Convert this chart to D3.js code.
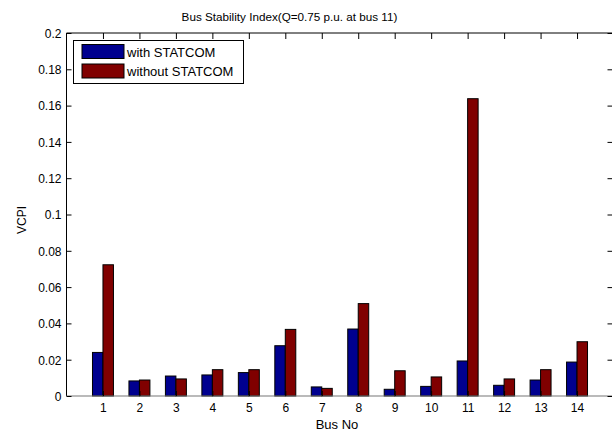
<!DOCTYPE html>
<html><head><meta charset="utf-8">
<script src="https://cdn.jsdelivr.net/npm/d3@7"></script>
<style>body{margin:0;background:#fff}svg{display:block}text{font-family:"Liberation Sans",Arial,sans-serif}</style>
</head><body><svg id="c" width="612" height="434"></svg>
<script>
const buses = [1,2,3,4,5,6,7,8,9,10,11,12,13,14];
const withStatcom = [0.024,0.0083,0.011,0.0116,0.0129,0.0277,0.005,0.0369,0.0037,0.0053,0.0193,0.0059,0.0088,0.0187];
const withoutStatcom = [0.0723,0.0088,0.0094,0.0145,0.0145,0.0367,0.0042,0.0509,0.0139,0.0105,0.1638,0.0094,0.0145,0.0299];
const yTicks = [0,0.02,0.04,0.06,0.08,0.1,0.12,0.14,0.16,0.18,0.2];
const seriesNames = ["with STATCOM","without STATCOM"];
const colors = ["#00008f","#800000"];

const svg = d3.select("#c");
const L = 66.5, R = 613.5, T = 33, B = 396;
const x = d3.scaleLinear().domain([0,15]).range([L,R]);
const y = d3.scaleLinear().domain([0,0.2]).range([B,T]);
const step = x(1)-x(0);
const bw = step*0.2875;

const series = [withStatcom, withoutStatcom];
series.forEach((vals,si)=>{
  svg.append("g").selectAll("rect").data(vals).join("rect")
    .attr("x",(d,i)=>x(buses[i]) + (si===0 ? -bw : 0))
    .attr("width",bw)
    .attr("y",d=>y(d))
    .attr("height",d=>B-y(d))
    .attr("fill",colors[si])
    .attr("stroke","#000").attr("stroke-width",1);
});

// frame
svg.append("line").attr("x1",L).attr("x2",R).attr("y1",T).attr("y2",T).attr("stroke","#000");
svg.append("line").attr("x1",L).attr("x2",L).attr("y1",T).attr("y2",B).attr("stroke","#000");
svg.append("line").attr("x1",L).attr("x2",R).attr("y1",B).attr("y2",B).attr("stroke","#777").attr("stroke-width",1.2);

// axes
const yAxisL = d3.axisLeft(y).tickValues(yTicks).tickSize(-5).tickPadding(5).tickFormat(d=>d3.format("~g")(d));
const gy = svg.append("g").attr("transform",`translate(${L},0)`).call(yAxisL);
const yAxisR = d3.axisRight(y).tickValues(yTicks).tickSize(-6).tickFormat("");
const gyr = svg.append("g").attr("transform",`translate(${R},0)`).call(yAxisR);
const xAxisB = d3.axisBottom(x).tickValues(buses).tickSize(-5).tickPadding(7).tickFormat(d3.format("d"));
const gx = svg.append("g").attr("transform",`translate(0,${B})`).call(xAxisB);
const xAxisT = d3.axisTop(x).tickValues(buses).tickSize(-6).tickFormat("");
const gxt = svg.append("g").attr("transform",`translate(0,${T})`).call(xAxisT);
[gy,gyr,gx,gxt].forEach(g=>{
  g.select(".domain").remove();
  g.selectAll("line").attr("stroke","#000");
  g.selectAll("text").attr("fill","#000").style("font-size","12px").style("font-family",'"Liberation Sans",Arial,sans-serif');
});
gy.selectAll("text").attr("dy","0.36em");

// title & labels
svg.append("text").attr("x",289.5).attr("y",21).attr("text-anchor","middle").style("font-size","11.7px").text("Bus Stability Index(Q=0.75 p.u. at bus 11)");
svg.append("text").attr("x",337).attr("y",429).attr("text-anchor","middle").style("font-size","13px").text("Bus No");
svg.append("text").attr("transform","translate(26,220) rotate(-90)").attr("text-anchor","middle").style("font-size","12px").text("VCPI");

// legend
const lg = svg.append("g");
lg.append("rect").attr("x",73.5).attr("y",40.5).attr("width",170).attr("height",43).attr("fill","#fff").attr("stroke","#000");
seriesNames.forEach((n,i)=>{
  lg.append("rect").attr("x",82).attr("y",44.5+i*19.5).attr("width",42).attr("height",14).attr("fill",colors[i]).attr("stroke","#000");
  lg.append("text").attr("x",127).attr("y",56.5+i*19.5).style("font-size","13px").text(n);
});
</script></body></html>
